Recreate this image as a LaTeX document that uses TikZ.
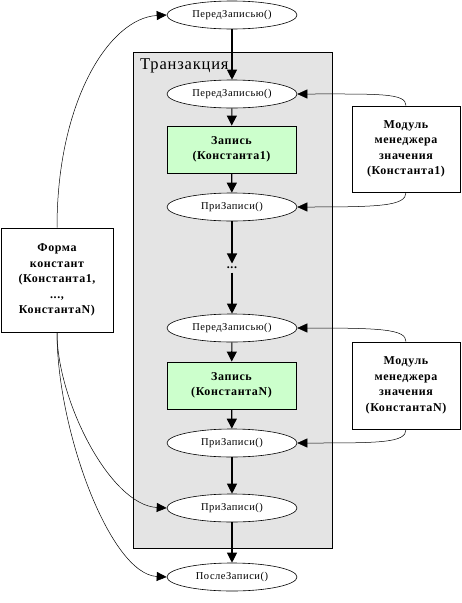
\documentclass[tikz,border=0pt]{standalone}
\usepackage{fontspec}
\setmainfont[LetterSpace=5]{Liberation Serif}
\usetikzlibrary{arrows.meta,shapes.geometric}
\definecolor{recgreen}{HTML}{CCFFCC}
\definecolor{clustgrey}{HTML}{E4E4E4}
\begin{document}
\begin{tikzpicture}[x=1pt,y=-1pt,
    call/.style={ellipse,draw,fill=white,line width=0.6pt,minimum width=130pt,minimum height=28pt,inner sep=0pt,font=\fontsize{10.5}{12}\selectfont},
    rec/.style={rectangle,draw,fill=recgreen,line width=0.8pt,minimum width=129pt,minimum height=47pt,align=center,font=\bfseries\fontsize{12}{15}\selectfont},
    ext/.style={rectangle,draw,fill=white,line width=0.8pt,minimum width=108pt,align=center,font=\bfseries\fontsize{12}{15.5}\selectfont},
    flow/.style={line width=1.1pt,-{Triangle[length=10pt,width=10pt]}},
    link/.style={line width=0.5pt,-{Triangle[length=10pt,width=9pt]}}
  ]
      \useasboundingbox (0,0) rectangle (461,603);

      \filldraw[fill=clustgrey,line width=0.8pt] (133,52) rectangle (332,548);
      \node[anchor=north west,inner sep=0pt,font=\fontsize{16.5}{18}\selectfont] (trans) at (140,58) {Транзакция};

      \node[call] (pre0) at (232,15) {ПередЗаписью()};
      \node[call] (pre1) at (232,94) {ПередЗаписью()};
      \node[rec] (rec1) at (231.5,149.5) {Запись\\(Константа1)};
      \node[call] (on1) at (232,207) {ПриЗаписи()};
      \node[font=\bfseries\fontsize{12}{14}\selectfont] (dots) at (232,268) {...};
      \node[call] (preN) at (232,328) {ПередЗаписью()};
      \node[rec] (recN) at (231.5,385.5) {Запись\\(КонстантаN)};
      \node[call] (onN) at (232,443) {ПриЗаписи()};
      \node[call] (on2) at (232,508) {ПриЗаписи()};
      \node[call] (post) at (232,577) {ПослеЗаписи()};

      \node[ext,minimum height=86pt] (mod1) at (406,149) {Модуль\\менеджера\\значения\\(Константа1)};
      \node[ext,minimum height=87pt] (modN) at (406,385.5) {Модуль\\менеджера\\значения\\(КонстантаN)};
      \node[ext,minimum width=112pt,minimum height=104pt] (form) at (57,280) {Форма\\констант\\(Константа1,\\...,\\КонстантаN)};

      \draw[flow]
        (pre0) -- (pre1)
      ;
      \draw[flow] (pre1) -- (rec1);
      \draw[flow] (rec1) -- (on1);
      \draw[flow] (on1) -- (dots);
      \draw[flow] (dots) -- (preN);
      \draw[flow] (preN) -- (recN);
      \draw[flow] (recN) -- (onN);
      \draw[flow] (onN) -- (on2);
      \draw[flow] (on2) -- (post);

      \draw[link] (mod1.north) .. controls (406,93) and (380,94) .. (pre1.east);
      \draw[link] (mod1.south) .. controls (406,206) and (380,207) .. (on1.east);
      \draw[link] (modN.north) .. controls (406,329) and (380,328) .. (preN.east);
      \draw[link] (modN.south) .. controls (406,443) and (380,443) .. (onN.east);

      \draw[link] (form.north) .. controls (57,100) and (110,18) .. (pre0.west);
      \draw[link] (form.south) .. controls (57,400) and (110,505) .. (on2.west);
      \draw[link] (form.south) .. controls (57,430) and (110,574) .. (post.west);
    \end{tikzpicture}
\end{document}
